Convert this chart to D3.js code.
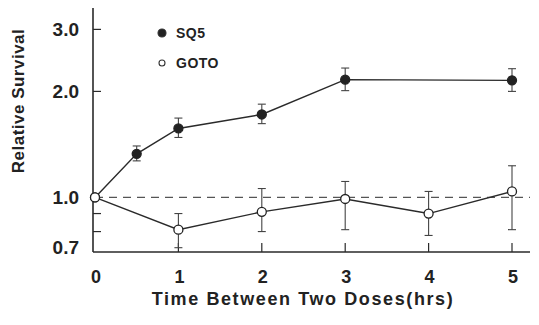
<!DOCTYPE html>
<html lang="en">
<head>
    <meta charset="UTF-8">
    <title>Relative Survival</title>
    <style>
        body { margin: 0; background: #fff; }
        svg { display: block; font-family: "Liberation Sans", Arial, sans-serif; }
    </style>
</head>
<body>
    <div class="graph-container"></div>

    <script src="https://d3js.org/d3.v7.min.js"></script>
    <script>
        // values
        var sq5Times = [0, 0.5, 1, 2, 3, 5];
        var sq5Values = [1.0, 1.33, 1.57, 1.72, 2.16, 2.15];
        var sq5Low = [1.0, 1.27, 1.48, 1.62, 2.01, 2.0];
        var sq5High = [1.0, 1.40, 1.68, 1.84, 2.33, 2.32];

        var gotoTimes = [0, 1, 2, 3, 4, 5];
        var gotoValues = [1.0, 0.81, 0.91, 0.99, 0.90, 1.04];
        var gotoLow = [1.0, 0.72, 0.80, 0.81, 0.78, 0.81];
        var gotoHigh = [1.0, 0.90, 1.06, 1.11, 1.04, 1.23];

        var xTicks = [0, 1, 2, 3, 4, 5];
        var yTicks = [0.7, 1.0, 2.0, 3.0];
        var yMinorTicks = [0.8, 0.9];

        var width = 539, height = 325;

        var x = d3.scaleLinear().domain([0, 5]).range([95, 512]);
        var y = d3.scaleLog().domain([0.7, 3.45]).range([252, 8]);

        var svg = d3.select(".graph-container").append("svg")
            .attr("width", width)
            .attr("height", height);

        var ink = "#2a2a2a";

        // axes lines
        svg.append("line").attr("x1", 93).attr("x2", 93).attr("y1", 8).attr("y2", 252)
            .attr("stroke", ink).attr("stroke-width", 1.6);
        svg.append("line").attr("x1", 93).attr("x2", 530).attr("y1", 252).attr("y2", 252)
            .attr("stroke", ink).attr("stroke-width", 1.6);

        // x ticks (inward)
        svg.selectAll(".xtick").data(xTicks.filter(function(d) { return d > 0; })).enter()
            .append("line")
            .attr("x1", function(d) { return x(d); })
            .attr("x2", function(d) { return x(d); })
            .attr("y1", 252).attr("y2", 243)
            .attr("stroke", ink).attr("stroke-width", 1.2);

        svg.selectAll(".xlabel").data(xTicks).enter()
            .append("text")
            .attr("x", function(d) { return x(d) + 1; })
            .attr("y", 283)
            .attr("text-anchor", "middle")
            .attr("font-size", 18)
            .attr("font-weight", "bold")
            .attr("fill", "#222")
            .text(function(d) { return d; });

        // y ticks (inward)
        svg.selectAll(".ytick").data([2.0, 3.0].concat(yMinorTicks)).enter()
            .append("line")
            .attr("x1", 93).attr("x2", 101)
            .attr("y1", function(d) { return y(d); })
            .attr("y2", function(d) { return y(d); })
            .attr("stroke", ink).attr("stroke-width", 1.2);

        svg.selectAll(".ylabel").data(yTicks).enter()
            .append("text")
            .attr("x", 79)
            .attr("y", function(d) { return d === 0.7 ? y(d) - 5 : y(d); })
            .attr("dy", "0.35em")
            .attr("text-anchor", "end")
            .attr("font-size", 19)
            .attr("font-weight", "bold")
            .attr("fill", "#222")
            .text(function(d) { return d.toFixed(1); });

        // reference line at 1.0
        svg.append("line")
            .attr("x1", x(0)).attr("x2", 530)
            .attr("y1", y(1)).attr("y2", y(1))
            .attr("stroke", "#555").attr("stroke-width", 1.3)
            .attr("stroke-dasharray", "8,6");

        function drawSeries(times, values, low, high, filled) {
            var pts = times.map(function(t, i) {
                return { t: t, v: values[i], lo: low[i], hi: high[i] };
            });
            var g = svg.append("g");
            var line = d3.line()
                .x(function(d) { return x(d.t); })
                .y(function(d) { return y(d.v); });
            g.append("path").datum(pts)
                .attr("d", line)
                .attr("fill", "none")
                .attr("stroke", ink)
                .attr("stroke-width", 1.4);

            var bars = g.selectAll(".err").data(pts.filter(function(d) { return d.hi > d.lo; })).enter();
            bars.append("line")
                .attr("x1", function(d) { return x(d.t); })
                .attr("x2", function(d) { return x(d.t); })
                .attr("y1", function(d) { return y(d.hi); })
                .attr("y2", function(d) { return y(d.lo); })
                .attr("stroke", "#444").attr("stroke-width", 1.1);
            [ "hi", "lo" ].forEach(function(k) {
                bars.append("line")
                    .attr("x1", function(d) { return x(d.t) - 4; })
                    .attr("x2", function(d) { return x(d.t) + 4; })
                    .attr("y1", function(d) { return y(d[k]); })
                    .attr("y2", function(d) { return y(d[k]); })
                    .attr("stroke", "#444").attr("stroke-width", 1.1);
            });

            g.selectAll("circle").data(pts).enter()
                .append("circle")
                .attr("cx", function(d) { return x(d.t); })
                .attr("cy", function(d) { return y(d.v); })
                .attr("r", 4.5)
                .attr("fill", filled ? "#222" : "#fff")
                .attr("stroke", "#222")
                .attr("stroke-width", 1.3);
        }

        drawSeries(sq5Times, sq5Values, sq5Low, sq5High, true);
        drawSeries(gotoTimes, gotoValues, gotoLow, gotoHigh, false);

        // legend
        var legend = [{ name: "SQ5", filled: true }, { name: "GOTO", filled: false }];
        var lg = svg.selectAll(".legend").data(legend).enter().append("g")
            .attr("transform", function(d, i) { return "translate(162," + (33 + i * 30) + ")"; });
        lg.append("circle")
            .attr("r", function(d) { return d.filled ? 4 : 3; })
            .attr("fill", function(d) { return d.filled ? "#222" : "#fff"; })
            .attr("stroke", "#333").attr("stroke-width", 1.1);
        lg.append("text")
            .attr("x", 14).attr("dy", "0.35em")
            .attr("font-size", 14).attr("font-weight", "bold").attr("fill", "#222")
            .attr("letter-spacing", 0.5)
            .text(function(d) { return d.name; });

        // axis titles
        svg.append("text")
            .attr("x", 303).attr("y", 305)
            .attr("text-anchor", "middle")
            .attr("font-size", 18).attr("font-weight", "bold").attr("fill", "#222")
            .attr("letter-spacing", 1.6)
            .text("Time Between Two Doses(hrs)");
        svg.append("text")
            .attr("transform", "translate(24,101) rotate(-90)")
            .attr("text-anchor", "middle")
            .attr("font-size", 17).attr("font-weight", "bold").attr("fill", "#222")
            .attr("letter-spacing", 0.5)
            .text("Relative Survival");
    </script>
</body>
</html>
